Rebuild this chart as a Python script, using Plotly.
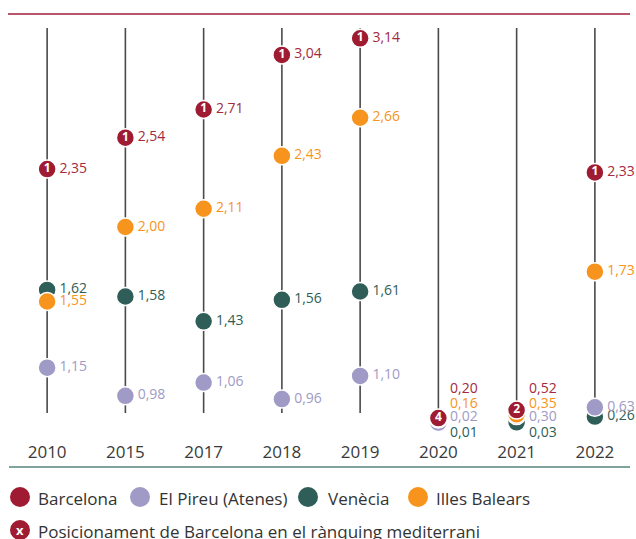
import plotly.graph_objects as go

years = ["2010", "2015", "2017", "2018", "2019", "2020", "2021", "2022"]
barcelona = [2.35, 2.54, 2.71, 3.04, 3.14, 0.20, 0.52, 2.33]
pireu = [1.15, 0.98, 1.06, 0.96, 1.10, 0.02, 0.30, 0.63]
venecia = [1.62, 1.58, 1.43, 1.56, 1.61, 0.01, 0.03, 0.26]
balears = [1.55, 2.00, 2.11, 2.43, 2.66, 0.16, 0.35, 1.73]
rank_bcn = [1, 1, 1, 1, 1, 4, 2, 1]
stacked_years = ["2020", "2021"]

C_BCN = "#9e1b32"
C_PIR = "#9f9ac6"
C_VEN = "#2e5e57"
C_BAL = "#f7941d"
T_BCN = "#a32a40"
FONT = "Open Sans"

# axis scale: linear above 0.96, compressed below (as in the infographic)
def scale(v):
    return v if v >= 0.96 else 0.96 - (0.96 - v) * 0.151

def fmt(v):
    return f"{v:.2f}".replace(".", ",")

fig = go.Figure()

# vertical stems (category index positions)
shapes = []
for i, yr in enumerate(years):
    shapes.append(dict(type="line", xref="x", yref="paper", x0=i, x1=i,
                       y0=0.0655, y1=1.0, line=dict(color="#4a4a4a", width=1.6), layer="below"))

series = [("Venècia", venecia, C_VEN, C_VEN),
          ("El Pireu (Atenes)", pireu, C_PIR, C_PIR),
          ("Illes Balears", balears, C_BAL, C_BAL),
          ("Barcelona", barcelona, C_BCN, T_BCN)]

for name, vals, col, tcol in series:
    txt = ["" if y in stacked_years else fmt(v) for y, v in zip(years, vals)]
    fig.add_trace(go.Scatter(
        x=years, y=[scale(v) for v in vals], mode="markers+text", name=name,
        marker=dict(size=18, color=col, line=dict(color="white", width=1.5)),
        text=txt, textposition="middle right",
        textfont=dict(family=FONT, size=14, color=tcol),
        cliponaxis=False, showlegend=False, hoverinfo="skip"))

# rank numbers in Barcelona markers
fig.add_trace(go.Scatter(
    x=years, y=[scale(v) for v in barcelona], mode="text",
    text=[str(r) for r in rank_bcn], textposition="middle center",
    textfont=dict(family=FONT, size=12, color="white", weight="bold"),
    cliponaxis=False, showlegend=False, hoverinfo="skip"))

annotations = []
# stacked labels for 2020 / 2021
stack_rows = [0.1286, 0.0922, 0.0583, 0.0218]
for yr in stacked_years:
    i = years.index(yr)
    for (vals, col), ypos in zip([(barcelona, T_BCN), (balears, C_BAL), (pireu, C_PIR), (venecia, C_VEN)], stack_rows):
        annotations.append(dict(x=i, xref="x", y=ypos, yref="paper", text=fmt(vals[i]),
                                xanchor="left", yanchor="middle", xshift=10, showarrow=False,
                                font=dict(family=FONT, size=14, color=col)))

# top and bottom rules
shapes.append(dict(type="line", xref="paper", yref="paper", x0=0.0, x1=0.9936, y0=1.034, y1=1.034,
                   line=dict(color="#b8566a", width=2)))
shapes.append(dict(type="line", xref="paper", yref="paper", x0=0.0016, x1=0.9936, y0=-0.0655, y1=-0.0655,
                   line=dict(color="#7fa39d", width=2)))

# custom legend (positions in page pixels -> paper coords)
def px_x(px):
    return (px - 8) / 626.0

def px_y(py):
    return (440 - py) / 412.0

legend_items = [("Barcelona", C_BCN, 20, 36), ("El Pireu (Atenes)", C_PIR, 140, 157),
                ("Venècia", C_VEN, 308, 326), ("Illes Balears", C_BAL, 418, 434)]
for label, col, cx, tx in legend_items:
    shapes.append(dict(type="circle", xref="paper", yref="paper", xsizemode="pixel", ysizemode="pixel",
                       xanchor=px_x(cx), yanchor=px_y(497), x0=-10, x1=10, y0=-10, y1=10,
                       fillcolor=col, line=dict(width=0)))
    annotations.append(dict(x=px_x(tx), y=px_y(498), xref="paper", yref="paper", text=label,
                            xanchor="left", yanchor="middle", showarrow=False,
                            font=dict(family=FONT, size=17, color="#333333")))

shapes.append(dict(type="circle", xref="paper", yref="paper", xsizemode="pixel", ysizemode="pixel",
                   xanchor=px_x(20), yanchor=px_y(530), x0=-10, x1=10, y0=-10, y1=10,
                   fillcolor=C_BCN, line=dict(width=0)))
annotations.append(dict(x=px_x(20), y=px_y(530), xref="paper", yref="paper", text="<b>x</b>",
                        xanchor="center", yanchor="middle", showarrow=False,
                        font=dict(family=FONT, size=13, color="white")))
annotations.append(dict(x=px_x(36), y=px_y(531), xref="paper", yref="paper",
                        text="Posicionament de Barcelona en el rànquing mediterrani",
                        xanchor="left", yanchor="middle", showarrow=False,
                        font=dict(family=FONT, size=17, color="#333333")))

fig.update_layout(
    width=636, height=539,
    margin=dict(l=8, r=2, t=28, b=99),
    paper_bgcolor="white", plot_bgcolor="white",
    showlegend=False,
    shapes=shapes, annotations=annotations,
    xaxis=dict(type="category", range=[-0.5, 7.5], showgrid=False, zeroline=False, showline=False,
               ticks="", tickfont=dict(family=FONT, size=17, color="#3a3a3a")),
    yaxis=dict(range=[0.713, 3.2024], showgrid=False, zeroline=False, showline=False,
               showticklabels=False, ticks=""),
)

fig.write_html("out.html", config={"displayModeBar": False},
               post_script="document.body.style.margin='0';document.body.style.overflow='hidden';")
